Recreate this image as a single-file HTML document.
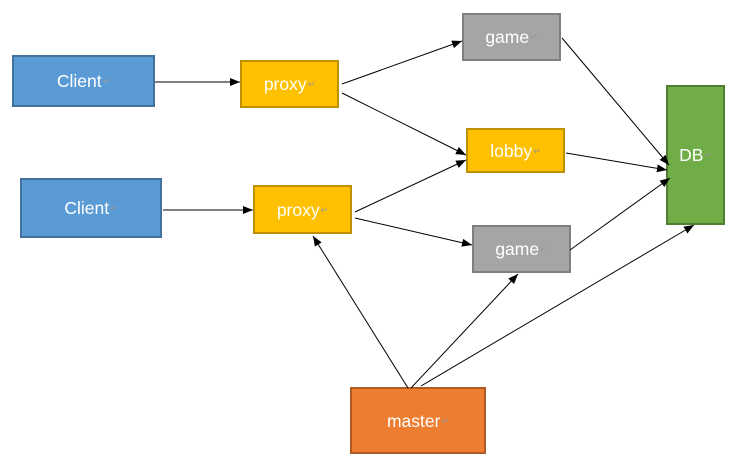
<!DOCTYPE html>
<html><head><style>
body{margin:0;width:751px;height:470px;background:#fff;position:relative;overflow:hidden;font-family:"Liberation Sans","Noto Sans CJK SC",sans-serif}
.b{position:absolute;box-sizing:border-box;border:2px solid;display:flex;align-items:center;justify-content:center;color:#fff;font-size:17.5px;padding-top:1px}
.b span{font-size:9px;color:#999;margin-left:1px}
.bl{background:#5B9BD5;border-color:#41719C}
.y{background:#FFC000;border-color:#BF9000}
.g{background:#A5A5A5;border-color:#7F7F7F}
.gr{background:#70AD47;border-color:#507E32}
.o{background:#ED7D31;border-color:#AE5A21}
svg{position:absolute;left:0;top:0}
</style></head><body>
<div class="b bl" style="left:12px;top:55px;width:143px;height:52px">Client<span>↵</span></div>
<div class="b bl" style="left:20px;top:178px;width:142px;height:60px">Client<span>↵</span></div>
<div class="b y" style="left:240px;top:60px;width:99px;height:48px">proxy<span>↵</span></div>
<div class="b y" style="left:253px;top:185px;width:99px;height:49px">proxy<span>↵</span></div>
<div class="b g" style="left:462px;top:13px;width:99px;height:48px">game<span>↵</span></div>
<div class="b y" style="left:466px;top:128px;width:99px;height:45px">lobby<span>↵</span></div>
<div class="b g" style="left:472px;top:225px;width:99px;height:48px">game<span>↵</span></div>
<div class="b gr" style="left:666px;top:85px;width:59px;height:140px">DB<span>↵</span></div>
<div class="b o" style="left:350px;top:387px;width:136px;height:67px">master<span>↵</span></div>
<svg width="751" height="470">
<defs><marker id="a" markerWidth="10" markerHeight="8" refX="10" refY="4" orient="auto" markerUnits="userSpaceOnUse"><path d="M0,0L10,4L0,8z" fill="#000"/></marker></defs>
<g stroke="#000" stroke-width="1" marker-end="url(#a)">
<line x1="155" y1="82" x2="240" y2="82"/>
<line x1="163" y1="210" x2="253" y2="210"/>
<line x1="342" y1="84" x2="462" y2="41"/>
<line x1="342" y1="93" x2="466" y2="155"/>
<line x1="355" y1="212" x2="466" y2="160"/>
<line x1="355" y1="218" x2="472" y2="245"/>
<line x1="562" y1="38" x2="669" y2="165"/>
<line x1="566" y1="153" x2="667" y2="170"/>
<line x1="570" y1="250" x2="670" y2="178"/>
<line x1="408" y1="388" x2="313" y2="236"/>
<line x1="411" y1="388" x2="518" y2="274"/>
<line x1="421" y1="386" x2="694" y2="225"/>
</g></svg>
</body></html>
